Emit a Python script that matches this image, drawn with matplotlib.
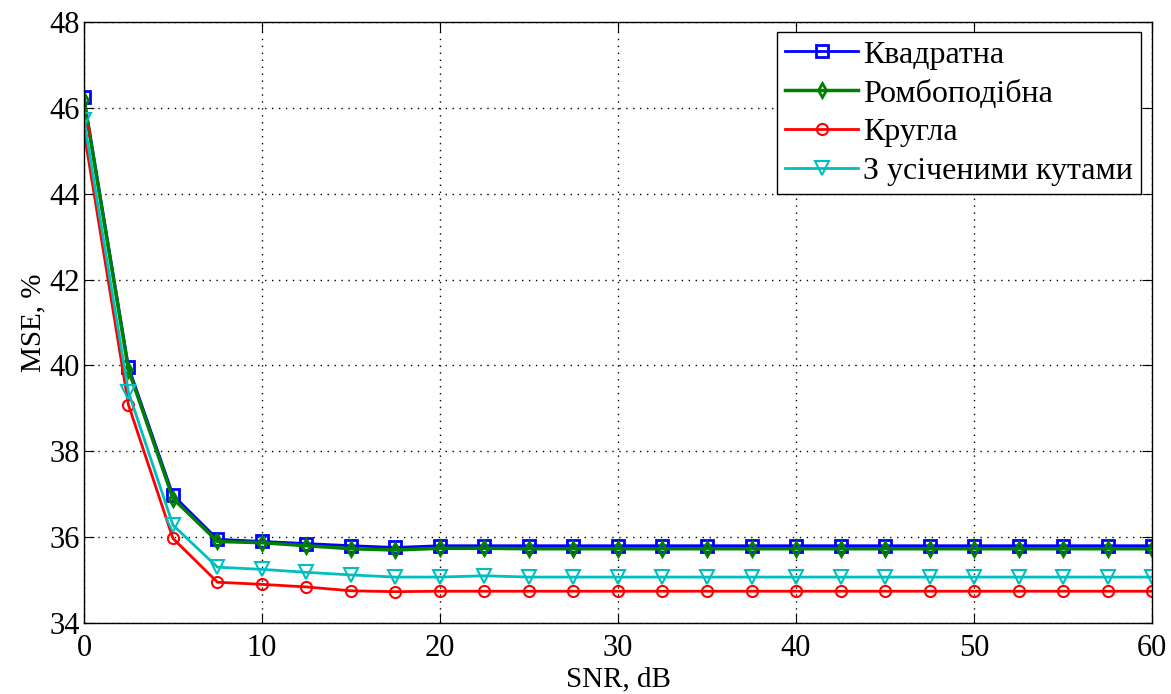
import matplotlib
matplotlib.use("Agg")
import matplotlib.pyplot as plt
import numpy as np

plt.rcParams['font.family'] = ['Liberation Serif', 'DejaVu Serif']

snr = np.arange(0, 60.1, 2.5)
kvadratna = [46.25, 39.97, 36.98, 35.95, 35.9, 35.85, 35.8, 35.76, 35.8, 35.8, 35.8, 35.8, 35.8,
             35.8, 35.8, 35.8, 35.8, 35.8, 35.8, 35.8, 35.8, 35.8, 35.8, 35.8, 35.8]
romb = [46.18, 39.9, 36.9, 35.9, 35.87, 35.8, 35.73, 35.7, 35.74, 35.74, 35.73, 35.73, 35.73,
        35.73, 35.73, 35.73, 35.73, 35.73, 35.73, 35.73, 35.73, 35.73, 35.73, 35.73, 35.73]
krugla = [45.45, 39.08, 35.97, 34.95, 34.9, 34.84, 34.75, 34.73, 34.74, 34.74, 34.74, 34.74, 34.74,
          34.74, 34.74, 34.74, 34.74, 34.74, 34.74, 34.74, 34.74, 34.74, 34.74, 34.74, 34.74]
usich = [45.72, 39.38, 36.28, 35.3, 35.25, 35.18, 35.12, 35.07, 35.07, 35.1, 35.07, 35.07, 35.07,
         35.07, 35.07, 35.07, 35.07, 35.07, 35.07, 35.07, 35.07, 35.07, 35.07, 35.07, 35.07]
labels = ['Квадратна', 'Ромбоподібна', 'Кругла', 'З усіченими кутами']

fig = plt.figure(figsize=(11.71, 6.94), dpi=100)
ax = fig.add_axes([0.0717, 0.1023, 0.9121, 0.866])

ax.plot(snr, kvadratna, color='blue', marker='s', markersize=9, markerfacecolor='none',
        markeredgewidth=2, linewidth=2, label=labels[0])
ax.plot(snr, romb, color='green', marker='d', markersize=7, markerfacecolor='none',
        markeredgewidth=2, linewidth=2.5, label=labels[1])
ax.plot(snr, krugla, color='red', marker='o', markersize=8, markerfacecolor='none',
        markeredgewidth=1.5, linewidth=2, label=labels[2])
ax.plot(snr, usich, color='#00bfbf', marker='v', markersize=10, markerfacecolor='none',
        markeredgewidth=1.5, linewidth=2, label=labels[3])

ax.set_xlim(0, 60)
ax.set_ylim(34, 48)
ax.set_xticks(np.arange(0, 61, 10))
ax.set_yticks(np.arange(34, 49, 2))
ax.tick_params(direction='in', labelsize=22, length=7, top=True, right=True)
ax.tick_params(axis='y', pad=3)
ax.tick_params(axis='x', pad=8)
ax.grid(True, linestyle=(0, (1, 4)), color='black', linewidth=1)
ax.set_xlabel('SNR, dB', fontsize=21, labelpad=2)
ax.set_ylabel('MSE, %', fontsize=21, labelpad=2)
for s in ax.spines.values():
    s.set_linewidth(1)

leg = ax.legend(loc='upper right', fontsize=23, fancybox=False, edgecolor='black',
                framealpha=1, handlelength=2.3, handletextpad=0.15, borderpad=0.25,
                labelspacing=0.3, borderaxespad=0, bbox_to_anchor=(0.9897, 0.983))
leg.get_frame().set_linewidth(1)

plt.savefig('out.png', dpi=100)
